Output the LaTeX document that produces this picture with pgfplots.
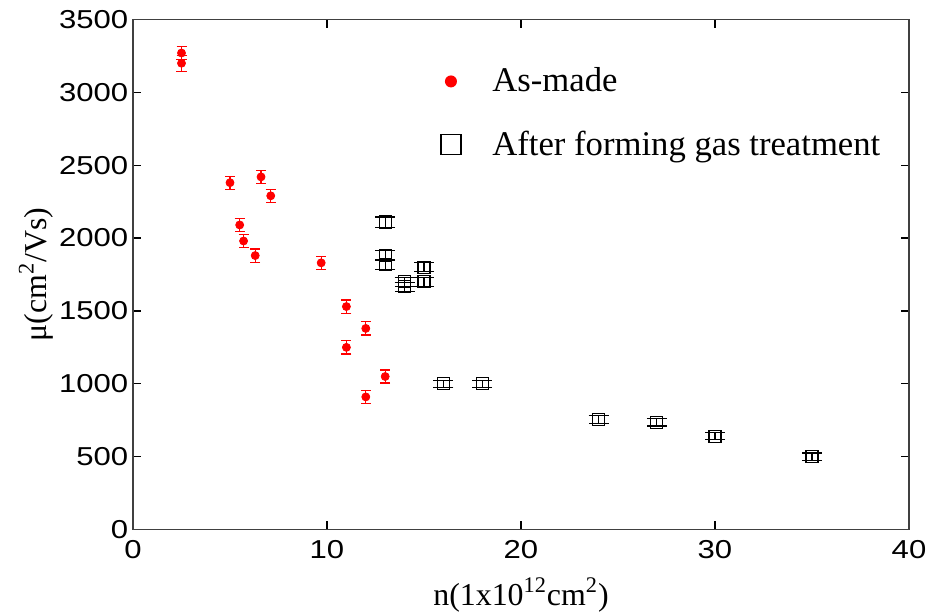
\documentclass[border=0pt]{standalone}
\usepackage{fontspec}
\setmainfont{Liberation Serif}
\newfontfamily\arial{Liberation Sans}
\usepackage{pgfplots}
\pgfplotsset{compat=1.18}
\pgfplotstableread{
x y e
2.5 3270 45
2.5 3200 55
5.0 2380 45
5.5 2090 45
5.7 1980 45
6.3 1880 45
6.6 2420 45
7.1 2290 45
9.7 1830 45
11.0 1530 45
11.0 1250 45
12.0 1380 45
12.0 910 45
13.0 1050 45
}\asmade
\pgfplotstableread{
x y e
13 2110 35
13 1880 35
13 1820 35
14 1700 30
14 1665 30
15 1800 30
15 1700 30
16 1000 25
18 1000 25
24 755 25
27 735 25
30 640 25
35 500 25
}\forming
\begin{document}
\begin{tikzpicture}
\path[use as bounding box] (0,0) rectangle (465bp,307.5bp);
\begin{axis}[
  at={(66.5bp,42.75bp)}, anchor=south west,
  scale only axis, width=388bp, height=255bp,
  xmin=0, xmax=40, ymin=0, ymax=3500,
  xtick={0,10,20,30,40}, ytick={0,500,...,3500},
  tick align=inside, major tick length=4bp,
  tick style={black, line width=0.6bp},
  axis line style={black!75, line width=0.6bp},
  ticklabel style={font=\arial\fontsize{13}{14}\selectfont, xscale=1.2},
  /pgf/number format/assume math mode=true,
  /pgf/number format/1000 sep={},
  xticklabel style={yshift=-2bp},
  yticklabel style={xshift=1.5bp},
  xlabel={n(1x10\textsuperscript{12}cm\textsuperscript{2})},
  ylabel={μ(cm\textsuperscript{2}/Vs)},
  label style={font=\fontsize{16}{18}\selectfont},
  xlabel style={at={(axis description cs:0.5,0)}, anchor=base, yshift=-37.75bp},
  ylabel style={at={(axis description cs:-0.112,0.5)}, anchor=base},
  legend style={draw=none, fill=none, inner sep=0pt, at={(axis cs:15.75,3198)}, anchor=north west,
    font=\fontsize{17.4}{20}\selectfont, row sep=14bp, column sep=12.7bp},
  legend cell align=left,
]
\addplot[only marks, mark=*, red, mark size=2bp,
  legend image code/.code={\fill[red, draw=none] (0bp,0bp) circle (3bp); \path[draw=none, fill=none] (-6bp,-6bp) rectangle (6bp,6bp);},
  error bars/.cd, y dir=both, y explicit,
  error mark options={rotate=90, red, mark size=2.5bp, line width=0.6bp},
  error bar style={red, line width=0.6bp}]
  table[x=x, y=y, y error=e] {\asmade};
\addlegendentry{As-made}
\addplot[only marks, mark=square, black, mark size=3bp, mark options={line width=0.6bp},
  legend image code/.code={\draw[black, fill=none, line width=0.6bp] (-5bp,-5bp) rectangle (5bp,5bp); \path[draw=none, fill=none] (-6bp,-6bp) rectangle (6bp,6bp);},
  error bars/.cd, y dir=both, y explicit,
  error mark options={rotate=90, black, mark size=5bp, line width=0.6bp},
  error bar style={black, line width=0.6bp}]
  table[x=x, y=y, y error=e] {\forming};
\addlegendentry{After forming gas treatment}
\end{axis}
\end{tikzpicture}
\end{document}
